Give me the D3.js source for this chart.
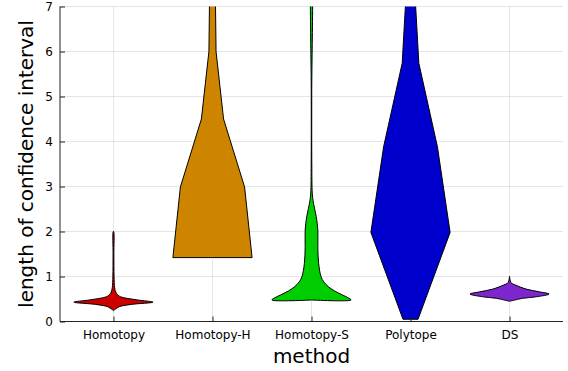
<!DOCTYPE html>
<html>
<head>
<meta charset="utf-8">
<script src="https://cdn.jsdelivr.net/npm/d3@7"></script>
<style>
  body { margin: 0; background: #fff; }
  text { font-family: "DejaVu Sans", sans-serif; fill: #000; }
</style>
</head>
<body>
<svg width="568" height="371"></svg>
<script>
var svg = d3.select("svg");

// categories and colours
const methods = ["Homotopy", "Homotopy-H", "Homotopy-S", "Polytope", "DS"];
const colors = ["#cd0000", "#cd8500", "#00cd00", "#0000cd", "#7d26cd"];
const yTicks = [0, 1, 2, 3, 4, 5, 6, 7];

// violin profiles: heights and relative half-widths (1 = widest)
const homotopyY = [0.24, 0.27, 0.33, 0.38, 0.43, 0.48, 0.55, 0.6, 0.65, 0.75, 1.0, 1.5, 2.0];
const homotopyW = [0, 0.04, 0.15, 0.45, 1.0, 0.6, 0.18, 0.1, 0.06, 0.03, 0.015, 0.01, 0.005];

const homotopyHY = [1.42, 1.42, 2.99, 4.5, 6.0, 7.5];
const homotopyHW = [0, 1.0, 0.81, 0.28, 0.09, 0.07];

const homotopySY = [0.478, 0.478, 0.53, 0.59, 0.68, 0.77, 0.88, 1.0, 1.29, 1.66, 2.03, 2.33, 2.63, 2.85, 3.5, 5.0, 8.0];
const homotopySW = [0, 1.0, 0.92, 0.78, 0.58, 0.43, 0.31, 0.24, 0.18, 0.16, 0.16, 0.12, 0.05, 0.02, 0.008, 0.006, 0.005];

const polytopeY = [0.05, 0.05, 1.98, 3.88, 5.74, 7.0, 8.0];
const polytopeW = [0, 0.19, 1.0, 0.68, 0.21, 0.13, 0.12];

const dsY = [0.45, 0.47, 0.515, 0.55, 0.61, 0.66, 0.72, 0.81, 0.85, 0.9, 1.0];
const dsW = [0, 0.1, 0.33, 0.68, 1.0, 0.75, 0.42, 0.15, 0.05, 0.02, 0];

const profiles = [
  [homotopyY, homotopyW],
  [homotopyHY, homotopyHW],
  [homotopySY, homotopySW],
  [polytopeY, polytopeW],
  [dsY, dsW]
];
const smooth = [true, false, true, false, true];

var plotLeft = 60, plotRight = 563, plotTop = 6.5, plotBottom = 321.5;

const xScale = d3.scaleLinear().domain([0.46, 5.54]).range([plotLeft, plotRight]);
const yScale = d3.scaleLinear().domain([0, 7]).range([plotBottom, plotTop]);

// grid
const grid = svg.append("g");
grid.selectAll("line.gy")
  .data(yTicks)
  .enter()
  .append("line")
  .attr("x1", plotLeft).attr("x2", plotRight)
  .attr("y1", (d) => yScale(d)).attr("y2", (d) => yScale(d))
  .attr("stroke", "#000").attr("stroke-opacity", 0.1).attr("stroke-width", 1);
grid.selectAll("line.gx")
  .data(methods)
  .enter()
  .append("line")
  .attr("x1", (d, i) => xScale(i + 1)).attr("x2", (d, i) => xScale(i + 1))
  .attr("y1", plotTop).attr("y2", plotBottom)
  .attr("stroke", "#000").attr("stroke-opacity", 0.1).attr("stroke-width", 1);

svg.append("clipPath").attr("id", "clip")
  .append("rect")
  .attr("x", plotLeft).attr("y", plotTop)
  .attr("width", plotRight - plotLeft).attr("height", plotBottom - plotTop);

const half = 0.4;

const outline = (i, pts) => {
  // closed ring: left side going up, right side coming down
  const l = pts.map((d) => [xScale(i + 1 - half * d[1]), yScale(d[0])]);
  const r = pts.map((d) => [xScale(i + 1 + half * d[1]), yScale(d[0])]).reverse();
  const curve = smooth[i] ? d3.curveCatmullRomClosed.alpha(0.5) : d3.curveLinearClosed;
  return d3.line().curve(curve)(l.concat(r));
};

const g = svg.append("g").attr("clip-path", "url(#clip)");
profiles.forEach((p, i) => {
  const pts = p[0].map((y, k) => [y, p[1][k]]);
  g.append("path")
    .attr("d", outline(i, pts))
    .attr("fill", colors[i])
    .attr("stroke", "#000")
    .attr("stroke-width", 1)
    .attr("stroke-linejoin", "round");
});

// axes
const yAxis = svg.append("g")
  .attr("transform", `translate(${plotLeft},0)`)
  .call(d3.axisLeft(yScale).tickValues(yTicks).tickFormat(d3.format("d"))
    .tickSize(-5).tickPadding(7));
const xAxis = svg.append("g")
  .attr("transform", `translate(0,${plotBottom})`)
  .call(d3.axisBottom(xScale).tickValues([1, 2, 3, 4, 5])
    .tickFormat((d) => methods[d - 1]).tickSize(-5).tickPadding(9));

yAxis.select(".domain").attr("d", `M0,${plotBottom}V${plotTop}`);
xAxis.select(".domain").attr("d", `M${plotLeft},0H${plotRight}`);
[yAxis, xAxis].forEach((a) => {
  a.select(".domain").attr("stroke", "#222");
  a.selectAll(".tick line").attr("stroke", "#222");
  a.selectAll("text").attr("font-size", 12).attr("font-family", "DejaVu Sans").attr("fill", "#000");
});

svg.append("text")
  .attr("transform", `translate(33,${(plotTop + plotBottom) / 2}) rotate(-90)`)
  .attr("text-anchor", "middle")
  .attr("font-size", 20)
  .text("length of confidence interval");

svg.append("text")
  .attr("x", (plotLeft + plotRight) / 2)
  .attr("y", 363)
  .attr("text-anchor", "middle")
  .attr("font-size", 20)
  .text("method");
</script>
</body>
</html>
